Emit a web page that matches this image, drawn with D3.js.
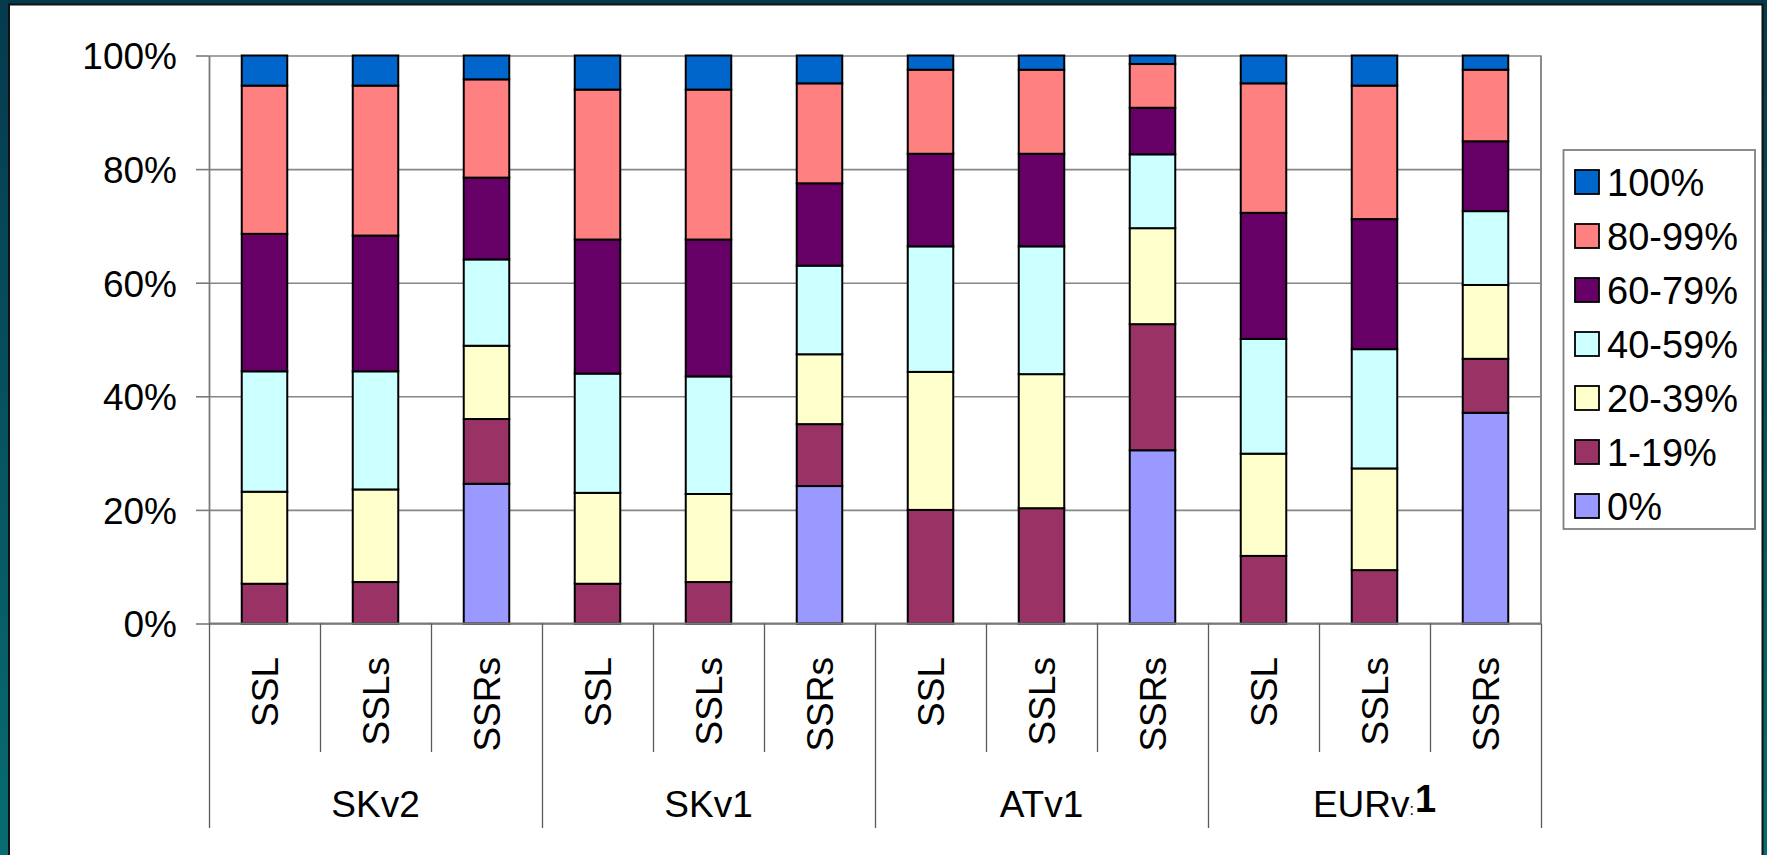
<!DOCTYPE html>
<html>
<head>
<meta charset="utf-8">
<script src="https://cdn.jsdelivr.net/npm/d3@7/dist/d3.min.js"></script>
<style>
  html, body { margin: 0; padding: 0; background: #06404f; }
  svg { display: block; }
  text { font-family: "Liberation Sans", Arial, sans-serif; fill: #000; }
</style>
</head>
<body>
<svg id="chart" width="1767" height="855"></svg>
<script>
// Groups and the three measures inside each group
const groups = ["SKv2", "SKv1", "ATv1", "EURv1"];
const measures = ["SSL", "SSLs", "SSRs"];

// Share (%) of each coverage band, one value per bar (group × measure order)
const band0     = [0,    0,    24.6, 0,    0,    24.2, 0,    0,    30.5, 0,    0,    37.1];
const band1_19  = [7.0,  7.3,  11.4, 7.0,  7.3,  10.9, 20.0, 20.3, 22.2, 11.9, 9.4,  9.5];
const band20_39 = [16.2, 16.3, 12.9, 16.0, 15.5, 12.3, 24.3, 23.6, 16.9, 18.0, 17.9, 13.0];
const band40_59 = [21.2, 20.8, 15.2, 21.0, 20.7, 15.6, 22.1, 22.5, 13.0, 20.2, 21.0, 13.0];
const band60_79 = [24.2, 23.9, 14.4, 23.6, 24.1, 14.5, 16.3, 16.3, 8.2,  22.2, 22.9, 12.3];
const band80_99 = [26.1, 26.4, 17.3, 26.4, 26.4, 17.6, 14.8, 14.8, 7.7,  22.8, 23.5, 12.6];
const band100   = [5.3,  5.3,  4.2,  6.0,  6.0,  4.9,  2.5,  2.5,  1.5,  4.9,  5.3,  2.5];

const seriesNames  = ["0%", "1-19%", "20-39%", "40-59%", "60-79%", "80-99%", "100%"];
const seriesValues = [band0, band1_19, band20_39, band40_59, band60_79, band80_99, band100];
const seriesColors = ["#9999FF", "#993366", "#FFFFCC", "#CCFFFF", "#660066", "#FF8080", "#0066CC"];

const yTicks = [0, 20, 40, 60, 80, 100];

// One row per bar, built from the arrays above
const bars = [];
groups.forEach((g, gi) => measures.forEach((m, mi) => {
  const idx = gi * measures.length + mi;
  const row = { id: idx, group: g, measure: m };
  seriesNames.forEach((s, si) => { row[s] = seriesValues[si][idx]; });
  bars.push(row);
}));

const svg = d3.select("#chart");
const W = 1767, H = 855;

// Slide background: teal gradient with a white panel
const defs = svg.append("defs");
const grad = defs.append("linearGradient").attr("id", "bg").attr("x1", 0).attr("y1", 0).attr("x2", 0).attr("y2", 1);
grad.append("stop").attr("offset", "0%").attr("stop-color", "#053a4d");
grad.append("stop").attr("offset", "100%").attr("stop-color", "#086c72");
svg.append("rect").attr("width", W).attr("height", H).attr("fill", "url(#bg)");
svg.append("rect").attr("x", 9).attr("y", 4.5).attr("width", 1753.5).attr("height", H + 5)
  .attr("fill", "#fff").attr("stroke", "#111").attr("stroke-width", 2);

// Plot area
const plot = { left: 209, right: 1541, top: 55.5, bottom: 623.5 };

const xCat = d3.scaleBand().domain(bars.map(d => d.id)).range([plot.left, plot.right]);
const xBar = d3.scaleBand().domain(bars.map(d => d.id)).range([plot.left, plot.right])
  .paddingInner(0.59).paddingOuter(0.295);
const y = d3.scaleLinear().domain([0, 100]).range([plot.bottom, plot.top]);

// Horizontal gridlines
svg.append("g")
  .attr("transform", `translate(${plot.left},0)`)
  .call(d3.axisLeft(y).tickValues(yTicks).tickSize(-(plot.right - plot.left)).tickFormat(""))
  .call(g => g.select(".domain").remove())
  .call(g => g.selectAll("line").attr("stroke", "#868686").attr("stroke-width", 1.6));

// Plot area border (right edge)
svg.append("line").attr("x1", plot.right).attr("x2", plot.right)
  .attr("y1", plot.top).attr("y2", plot.bottom)
  .attr("stroke", "#8a8a8a").attr("stroke-width", 2);

// Y axis with percentage labels
const yAxis = svg.append("g")
  .attr("transform", `translate(${plot.left},0)`)
  .call(d3.axisLeft(y).tickValues(yTicks).tickSizeInner(13).tickSizeOuter(0).tickPadding(19)
    .tickFormat(d => d + "%"));
yAxis.select(".domain").attr("stroke", "#7a7a7a").attr("stroke-width", 1.8);
yAxis.selectAll(".tick line").attr("stroke", "#7a7a7a").attr("stroke-width", 1.6);
yAxis.selectAll(".tick text").attr("font-size", 37).attr("font-family", "Liberation Sans, Arial, sans-serif")
  .attr("fill", "#000").attr("dy", "0.36em");

// Stacked bars
const stack = d3.stack().keys(seriesNames)(bars);
svg.append("g").selectAll("g")
  .data(stack)
  .join("g")
  .attr("fill", (d, i) => seriesColors[i])
  .selectAll("rect")
  .data(d => d.filter(p => p[1] - p[0] > 0))
  .join("rect")
  .attr("x", d => xBar(d.data.id))
  .attr("width", xBar.bandwidth())
  .attr("y", d => y(d[1]))
  .attr("height", d => y(d[0]) - y(d[1]))
  .attr("stroke", "#000")
  .attr("stroke-width", 2);

// Bottom axis line
svg.append("line").attr("x1", plot.left).attr("x2", plot.right)
  .attr("y1", plot.bottom).attr("y2", plot.bottom)
  .attr("stroke", "#7a7a7a").attr("stroke-width", 1.8);

// Category separators: short ones between measures, long ones between groups
const innerBottom = 752, outerBottom = 828;
const sepG = svg.append("g").attr("stroke", "#5a5a5a").attr("stroke-width", 1.3);
bars.forEach((d, i) => {
  const x = Math.round(xCat(d.id)) + 0.5;
  sepG.append("line").attr("x1", x).attr("x2", x).attr("y1", plot.bottom)
    .attr("y2", i % measures.length === 0 ? outerBottom : innerBottom);
});
sepG.append("line").attr("x1", plot.right + 0.5).attr("x2", plot.right + 0.5)
  .attr("y1", plot.bottom).attr("y2", outerBottom);

// Rotated measure labels
svg.append("g").selectAll("text")
  .data(bars)
  .join("text")
  .attr("transform", d => `translate(${xCat(d.id) + xCat.bandwidth() / 2},657) rotate(-90)`)
  .attr("text-anchor", "end")
  .attr("dy", "0.36em")
  .attr("font-size", 37)
  .text(d => d.measure);

// Group labels
const groupLabels = svg.append("g").selectAll("text")
  .data(groups)
  .join("text")
  .attr("x", (g, gi) => {
    const first = xCat(gi * measures.length);
    const last = xCat(gi * measures.length + measures.length - 1) + xCat.bandwidth();
    return (first + last) / 2;
  })
  .attr("y", 817)
  .attr("text-anchor", "middle")
  .attr("font-size", 37);
groupLabels.each(function (g) {
  const t = d3.select(this);
  if (g === "EURv1") {
    t.append("tspan").text("EURv");
    t.append("tspan").attr("font-size", 16).attr("dy", -2).text(":");
    t.append("tspan").attr("font-weight", "bold").attr("font-size", 38).attr("dx", 1).attr("dy", -3).text("1");
  } else {
    t.text(g);
  }
});

// Legend (top entry is the top of the stack)
const legend = svg.append("g");
legend.append("rect").attr("x", 1563.5).attr("y", 150).attr("width", 1755 - 1563.5).attr("height", 529 - 150)
  .attr("fill", "#fff").attr("stroke", "#808080").attr("stroke-width", 1.8);
const legendOrder = d3.range(seriesNames.length).reverse();
const item = legend.selectAll("g.item")
  .data(legendOrder)
  .join("g")
  .attr("class", "item")
  .attr("transform", (si, k) => `translate(1575,${182 + k * 54})`);
item.append("rect").attr("x", 0).attr("y", -12).attr("width", 24).attr("height", 24)
  .attr("fill", si => seriesColors[si]).attr("stroke", "#000").attr("stroke-width", 1.8);
item.append("text").attr("x", 32).attr("dy", "0.36em").attr("font-size", 38)
  .text(si => seriesNames[si]);
</script>
</body>
</html>
